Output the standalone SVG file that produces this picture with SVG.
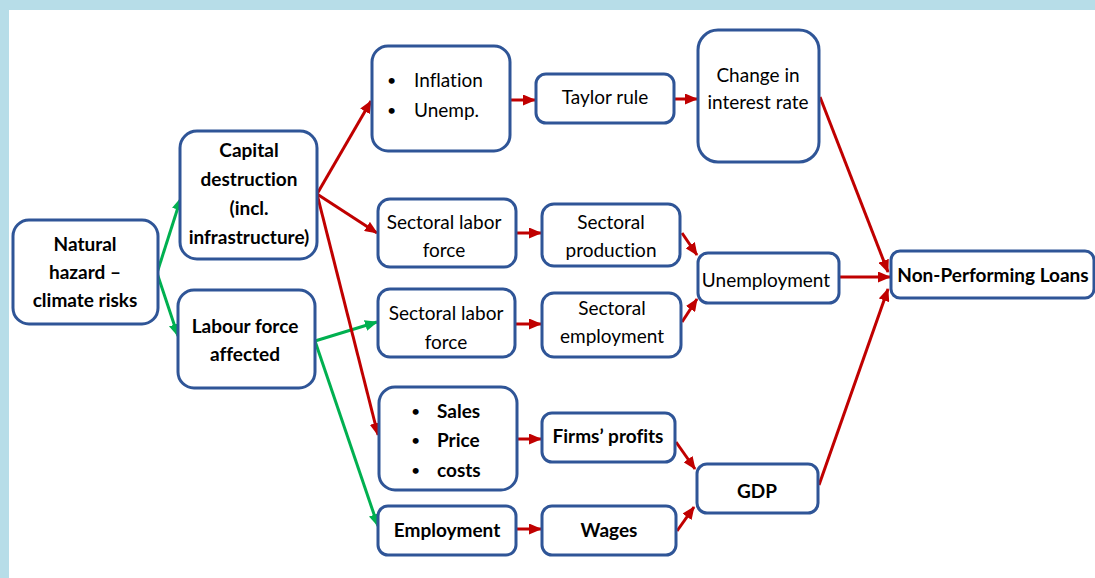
<svg xmlns="http://www.w3.org/2000/svg" width="1095" height="578" viewBox="0 0 1095 578">
<style>
.box{fill:#fff;stroke:#2F5597;stroke-width:3}
text{font-family:Lato,"Liberation Sans",sans-serif;font-size:19px;fill:#000;font-variant-ligatures:none}
.c{text-anchor:middle}
.b{font-weight:bold}
.dot{font-size:16px}
.r{stroke:#C00000;stroke-width:3;fill:none;marker-end:url(#ar)}
.g{stroke:#00B050;stroke-width:3;fill:none;marker-end:url(#ag)}
</style>
<defs>
<marker id="ar" markerUnits="userSpaceOnUse" markerWidth="13" markerHeight="11" refX="12" refY="5.5" orient="auto"><path d="M0,0 L13,5.5 L0,11 z" fill="#C00000"/></marker>
<marker id="ag" markerUnits="userSpaceOnUse" markerWidth="13" markerHeight="11" refX="12" refY="5.5" orient="auto"><path d="M0,0 L13,5.5 L0,11 z" fill="#00B050"/></marker>
</defs>
<rect x="0" y="0" width="1095" height="578" fill="#B7DDE8"/>
<rect x="9" y="10" width="1086" height="568" fill="#fff"/>

<g id="connectors">
<path class="g" d="M157,273 L181,198"/>
<path class="g" d="M157,273 L178,336"/>
<path class="g" d="M315,341 L377,322"/>
<path class="g" d="M315,341 L378,526"/>
<path class="r" d="M317,194 L371,101"/>
<path class="r" d="M317,194 L377,233"/>
<path class="r" d="M317,194 L378,435"/>
<path class="r" d="M510,100 L535,100"/>
<path class="r" d="M674,99 L697,99"/>
<path class="r" d="M820,97 L888,272"/>
<path class="r" d="M839,277 L890,277"/>
<path class="r" d="M819,485 L888,289"/>
<path class="r" d="M516,233 L541,233"/>
<path class="r" d="M515,324 L541,324"/>
<path class="r" d="M682,233 L697,255"/>
<path class="r" d="M682,322 L697,299"/>
<path class="r" d="M517,439 L541,439"/>
<path class="r" d="M676,442 L695,469"/>
<path class="r" d="M516,529 L541,529"/>
<path class="r" d="M677,531 L694,507"/>
</g>

<g id="natural-hazard">
<rect class="box" x="13" y="220" width="145" height="104" rx="16"/>
<text class="c b" x="85" y="251">Natural</text>
<text class="c b" x="85" y="279">hazard –</text>
<text class="c b" x="85" y="307">climate risks</text>
</g>
<g id="capital-destruction">
<rect class="box" x="180" y="131" width="137" height="128" rx="17"/>
<text class="c b" x="249" y="157">Capital</text>
<text class="c b" x="249" y="186">destruction</text>
<text class="c b" x="249" y="215">(incl.</text>
<text class="c b" x="249" y="244">infrastructure)</text>
</g>
<g id="labour-force">
<rect class="box" x="178" y="290" width="137" height="98" rx="16"/>
<text class="c b" x="245" y="333">Labour force</text>
<text class="c b" x="245" y="361">affected</text>
</g>
<g id="inflation-unemp">
<rect class="box" x="372" y="46" width="138" height="105" rx="16"/>
<text class="dot" x="387" y="86">•</text><text x="414" y="87">Inflation</text>
<text class="dot" x="387" y="116">•</text><text x="414" y="117">Unemp.</text>
</g>
<g id="taylor-rule">
<rect class="box" x="536" y="74" width="138" height="49" rx="10"/>
<text class="c" x="605" y="104">Taylor rule</text>
</g>
<g id="interest-rate">
<rect class="box" x="698" y="30" width="121" height="132" rx="20"/>
<text class="c" x="758" y="82">Change in</text>
<text class="c" x="758" y="109">interest rate</text>
</g>
<g id="sectoral-labor-force-1">
<rect class="box" x="378" y="199" width="138" height="68" rx="12"/>
<text class="c" x="444" y="229">Sectoral labor</text>
<text class="c" x="444" y="257">force</text>
</g>
<g id="sectoral-production">
<rect class="box" x="542" y="204" width="138" height="62" rx="12"/>
<text class="c" x="611" y="229">Sectoral</text>
<text class="c" x="611" y="257">production</text>
</g>
<g id="sectoral-labor-force-2">
<rect class="box" x="378" y="289" width="137" height="68" rx="12"/>
<text class="c" x="446" y="320">Sectoral labor</text>
<text class="c" x="446" y="349">force</text>
</g>
<g id="sectoral-employment">
<rect class="box" x="542" y="293" width="139" height="64" rx="12"/>
<text class="c" x="612" y="315">Sectoral</text>
<text class="c" x="612" y="343">employment</text>
</g>
<g id="unemployment">
<rect class="box" x="698" y="253" width="141" height="50" rx="10"/>
<text class="c" x="766" y="287">Unemployment</text>
</g>
<g id="npl">
<rect class="box" x="891" y="251" width="203" height="47" rx="9"/>
<text class="c b" x="993" y="282">Non-Performing Loans</text>
</g>
<g id="sales-price-costs">
<rect class="box" x="379" y="387" width="138" height="103" rx="16"/>
<text class="dot" x="411" y="417">•</text><text class="b" x="437" y="418">Sales</text>
<text class="dot" x="411" y="446">•</text><text class="b" x="437" y="447">Price</text>
<text class="dot" x="411" y="476">•</text><text class="b" x="437" y="477">costs</text>
</g>
<g id="firms-profits">
<rect class="box" x="542" y="413" width="133" height="49" rx="10"/>
<text class="c b" x="608" y="443">Firms’ profits</text>
</g>
<g id="employment">
<rect class="box" x="378" y="506" width="138" height="49" rx="10"/>
<text class="c b" x="447" y="537">Employment</text>
</g>
<g id="wages">
<rect class="box" x="542" y="506" width="134" height="49" rx="10"/>
<text class="c b" x="609" y="537">Wages</text>
</g>
<g id="gdp">
<rect class="box" x="697" y="464" width="121" height="49" rx="10"/>
<text class="c b" x="757" y="498">GDP</text>
</g>
</svg>
